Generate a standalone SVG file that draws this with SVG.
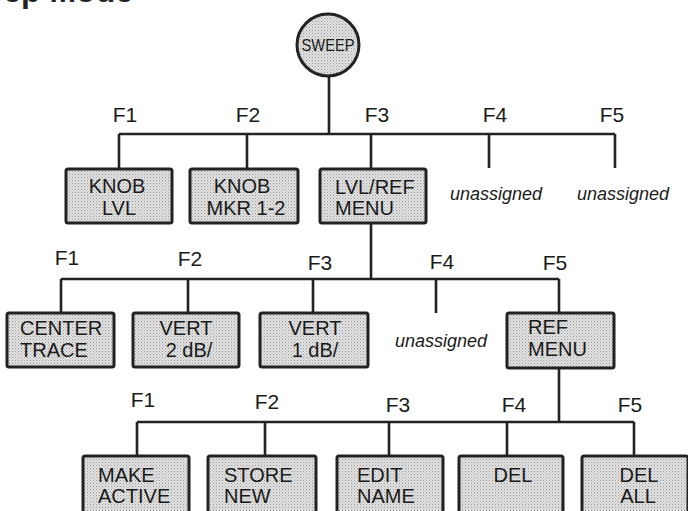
<svg xmlns="http://www.w3.org/2000/svg" width="688" height="511" viewBox="0 0 688 511">
<defs>
<pattern id="stip" width="3" height="3" patternUnits="userSpaceOnUse">
<rect width="3" height="3" fill="#e2e2e2"/>
<rect x="0" y="0" width="1" height="1" fill="#9a9a9a"/>
<rect x="1.5" y="1.5" width="1" height="1" fill="#b0b0b0"/>
</pattern>
</defs>
<style>
.box{fill:url(#stip);stroke:#222;stroke-width:3;}
.ln{fill:none;stroke:#222;stroke-width:2.6;}
.t{font-family:"Liberation Sans",Arial,sans-serif;font-size:20px;fill:#1a1a1a;}
.c{text-anchor:middle;}
.f{font-family:"Liberation Sans",Arial,sans-serif;font-size:21px;fill:#1a1a1a;text-anchor:middle;}
.u{font-family:"Liberation Sans",Arial,sans-serif;font-size:18px;font-style:italic;fill:#1a1a1a;}
.title{font-family:"Liberation Sans",Arial,sans-serif;font-size:32px;font-weight:bold;fill:#222;text-anchor:end;}
</style>
<rect width="688" height="511" fill="#fff"/>
<text class="title" x="133" y="2">Sweep Mode</text>

<g id="connectors">
<path class="ln" d="M329,76 V134 M119,134 H615 M119,134 V169 M247,134 V169 M371,134 V169 M489,134 V168 M615,134 V168"/>
<path class="ln" d="M371,223 V279 M61,279 H559 M61,279 V313 M188,279 V313 M313,279 V313 M436,279 V313 M559,279 V313"/>
<path class="ln" d="M559,368 V422 M137,422 H634 M137,422 V456 M265,422 V456 M389,422 V456 M507,422 V456 M634,422 V456"/>
</g>

<g id="labels">
<text class="f" x="125" y="122">F1</text>
<text class="f" x="248" y="122">F2</text>
<text class="f" x="377" y="122">F3</text>
<text class="f" x="495" y="122">F4</text>
<text class="f" x="612" y="122">F5</text>
<text class="f" x="67" y="265">F1</text>
<text class="f" x="190" y="266">F2</text>
<text class="f" x="320" y="270">F3</text>
<text class="f" x="442" y="269">F4</text>
<text class="f" x="555" y="270">F5</text>
<text class="f" x="143" y="407">F1</text>
<text class="f" x="267" y="409">F2</text>
<text class="f" x="398" y="412">F3</text>
<text class="f" x="514" y="412">F4</text>
<text class="f" x="630" y="412">F5</text>
</g>

<g id="sweep">
<circle class="box" cx="328" cy="45" r="31"/>
<text class="t c" x="328" y="51" textLength="53" lengthAdjust="spacingAndGlyphs" style="font-size:17px">SWEEP</text>
</g>

<g id="knob-lvl">
<rect class="box" x="66" y="169" width="106" height="54" rx="2"/>
<text class="t c" x="117" y="193">KNOB</text>
<text class="t c" x="119" y="215">LVL</text>
</g>
<g id="knob-mkr">
<rect class="box" x="190" y="169" width="108" height="54" rx="2"/>
<text class="t c" x="242" y="193">KNOB</text>
<text class="t c" x="246" y="215">MKR 1-2</text>
</g>
<g id="lvl-ref-menu">
<rect class="box" x="320" y="169" width="106" height="54" rx="2"/>
<text class="t" x="335" y="194">LVL/REF</text>
<text class="t" x="335" y="215">MENU</text>
</g>
<g id="unassigned-f4">
<text class="u" x="450" y="200">unassigned</text>
</g>
<g id="unassigned-f5">
<text class="u" x="577" y="200">unassigned</text>
</g>

<g id="center-trace">
<rect class="box" x="7" y="313" width="107" height="54" rx="2"/>
<text class="t" x="20" y="335">CENTER</text>
<text class="t" x="20" y="357">TRACE</text>
</g>
<g id="vert-2db">
<rect class="box" x="133" y="313" width="106" height="54" rx="2"/>
<text class="t c" x="186" y="335">VERT</text>
<text class="t c" x="189" y="357">2 dB/</text>
</g>
<g id="vert-1db">
<rect class="box" x="260" y="313" width="108" height="54" rx="2"/>
<text class="t c" x="315" y="335">VERT</text>
<text class="t c" x="315" y="357">1 dB/</text>
</g>
<g id="unassigned-l2">
<text class="u" x="395" y="347">unassigned</text>
</g>
<g id="ref-menu">
<rect class="box" x="507" y="313" width="107" height="55" rx="2"/>
<text class="t" x="528" y="334">REF</text>
<text class="t" x="528" y="356">MENU</text>
</g>

<g id="make-active">
<rect class="box" x="83" y="456" width="106" height="62" rx="2"/>
<text class="t" x="98" y="482">MAKE</text>
<text class="t" x="98" y="503">ACTIVE</text>
</g>
<g id="store-new">
<rect class="box" x="208" y="456" width="108" height="62" rx="2"/>
<text class="t" x="224" y="482">STORE</text>
<text class="t" x="224" y="503">NEW</text>
</g>
<g id="edit-name">
<rect class="box" x="337" y="456" width="106" height="62" rx="2"/>
<text class="t" x="357" y="482">EDIT</text>
<text class="t" x="357" y="503">NAME</text>
</g>
<g id="del">
<rect class="box" x="459" y="456" width="104" height="62" rx="2"/>
<text class="t c" x="513" y="482">DEL</text>
</g>
<g id="del-all">
<rect class="box" x="582" y="456" width="106" height="62" rx="2"/>
<text class="t c" x="639" y="482">DEL</text>
<text class="t c" x="638" y="503">ALL</text>
</g>
</svg>
